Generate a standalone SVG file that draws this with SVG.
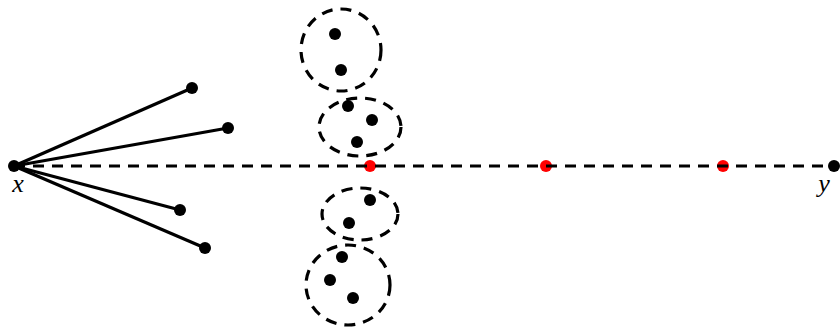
<svg xmlns="http://www.w3.org/2000/svg" width="840" height="327" viewBox="0 0 840 327">
<style>
.dot{fill:#000}
.red{fill:#ff0000}
.solid{stroke:#000;stroke-width:3.2;fill:none}
.dash{stroke:#000;stroke-width:3.2;fill:none;stroke-dasharray:11 8}
.lbl{font-family:"Liberation Serif",serif;font-style:italic;font-size:26px;fill:#000}
</style>
<rect width="840" height="327" fill="#fff"/>
<g id="red-points">
<circle class="red" cx="370" cy="166" r="6"/>
<circle class="red" cx="546" cy="166" r="6"/>
<circle class="red" cx="723" cy="166" r="6"/>
</g>
<g id="connectors">
<line class="solid" x1="14" y1="166" x2="192" y2="88"/>
<line class="solid" x1="14" y1="166" x2="228" y2="128"/>
<line class="solid" x1="14" y1="166" x2="180" y2="210"/>
<line class="solid" x1="14" y1="166" x2="205" y2="248"/>
<line class="dash" x1="14" y1="166" x2="834" y2="166"/>
</g>
<g id="cluster1">
<ellipse class="dash" cx="341" cy="50" rx="40" ry="41"/>
<circle class="dot" cx="335" cy="34" r="6"/>
<circle class="dot" cx="341" cy="70" r="6"/>
</g>
<g id="cluster2">
<ellipse class="dash" cx="360" cy="127" rx="41" ry="29"/>
<circle class="dot" cx="348" cy="106" r="6"/>
<circle class="dot" cx="372" cy="120" r="6"/>
<circle class="dot" cx="357" cy="142" r="6"/>
</g>
<g id="cluster3">
<ellipse class="dash" cx="360" cy="214" rx="38" ry="26"/>
<circle class="dot" cx="370" cy="200" r="6"/>
<circle class="dot" cx="349" cy="223" r="6"/>
</g>
<g id="cluster4">
<ellipse class="dash" cx="348" cy="285" rx="42" ry="40"/>
<circle class="dot" cx="342" cy="257" r="6"/>
<circle class="dot" cx="330" cy="280" r="6"/>
<circle class="dot" cx="353" cy="298" r="6"/>
</g>
<g id="fan-ends">
<circle class="dot" cx="192" cy="88" r="6"/>
<circle class="dot" cx="228" cy="128" r="6"/>
<circle class="dot" cx="180" cy="210" r="6"/>
<circle class="dot" cx="205" cy="248" r="6"/>
</g>
<g id="node-x">
<circle class="dot" cx="14" cy="166" r="6"/>
<text class="lbl" x="18" y="192" text-anchor="middle">x</text>
</g>
<g id="node-y">
<circle class="dot" cx="834" cy="166" r="6"/>
<text class="lbl" x="824" y="192" text-anchor="middle">y</text>
</g>
</svg>
